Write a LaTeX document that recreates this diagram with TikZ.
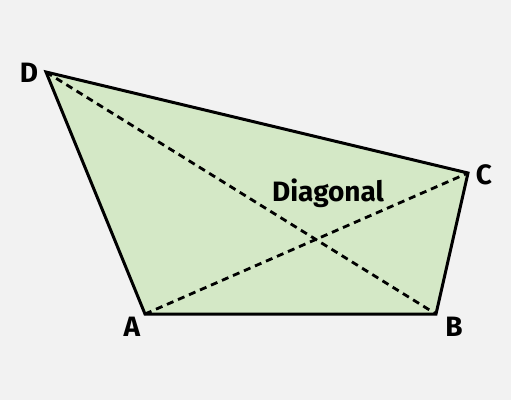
\documentclass[tikz,border=0pt]{standalone}
\usepackage{fontspec}
\setmainfont{Fira Sans}
\definecolor{bg}{HTML}{F2F2F2}
\definecolor{quadfill}{HTML}{D4E8C6}
\begin{document}
\begin{tikzpicture}[x=1pt,y=-1pt,
  edge/.style={line width=3pt,line join=miter},
  diag/.style={line width=2.8pt,dash pattern=on 7pt off 5pt},
  lbl/.style={font=\bfseries\fontsize{28}{30}\selectfont,inner sep=0pt}]
\fill[bg] (0,0) rectangle (511,400);
\useasboundingbox (0,0) rectangle (511,400);
\coordinate (A) at (145,314);
\coordinate (B) at (436,314);
\coordinate (C) at (468,173);
\coordinate (D) at (46,72);
\fill[quadfill] (A) -- (B) -- (C) -- (D) -- cycle;
\draw[diag] (A) -- (C);
\draw[diag] (D) -- (B);
\draw[edge] (A) -- (B) -- (C) -- (D) -- cycle;
\node[lbl] (lA) at (132,327) {A};
\node[lbl] (lB) at (454,327) {B};
\node[lbl] (lC) at (484,175) {C};
\node[lbl] (lD) at (29,73) {D};
\node[lbl,anchor=base] (lDiag) at (328,201) {Diagonal};
\end{tikzpicture}
\end{document}
